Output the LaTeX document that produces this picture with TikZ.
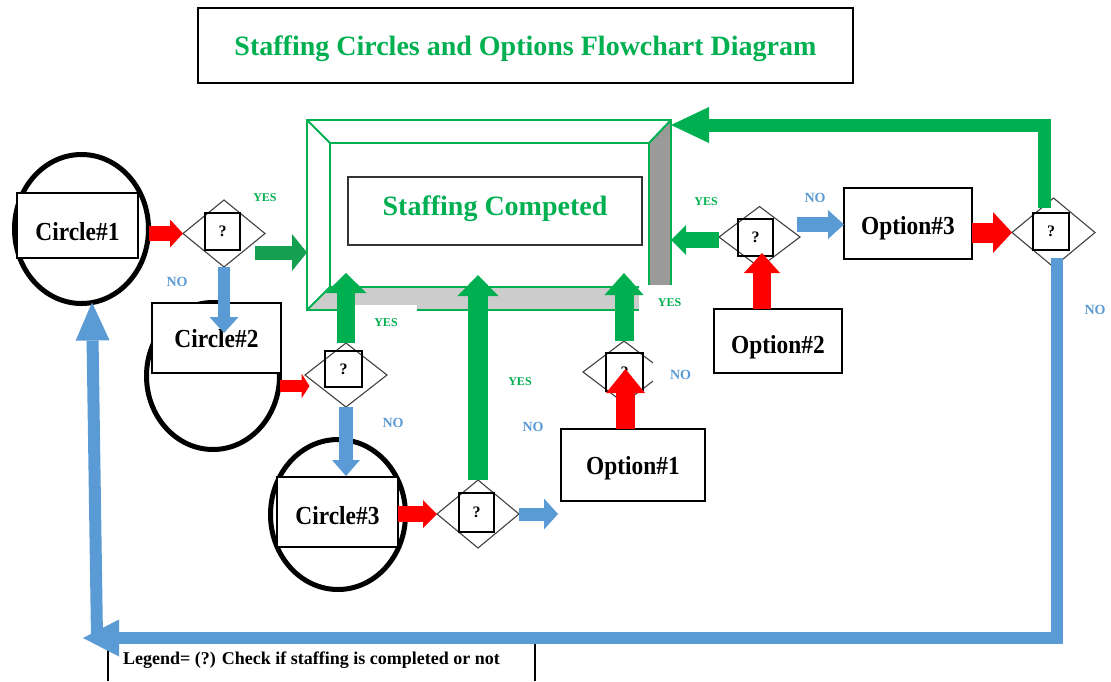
\documentclass[tikz,border=0pt]{standalone}
\usepackage{fontspec}
\setmainfont{Liberation Serif}
\newfontfamily\cond[FakeStretch=0.9]{Liberation Serif}
\usetikzlibrary{shapes.geometric,arrows.meta,calc}
\definecolor{gr}{HTML}{00B050}
\definecolor{dgr}{HTML}{14A050}
\definecolor{bl}{HTML}{5B9BD5}
\definecolor{rd}{HTML}{FF0000}
\definecolor{dgray}{HTML}{9A9A9A}
\definecolor{lgray}{HTML}{CCCCCC}
\newcommand\lowertext[2]{\raisebox{0pt}[\dimexpr\height+#1\relax][\depth]{#2}}
\tikzset{
 boxn/.style={draw=black, line width=1.3pt, fill=white, inner sep=0pt, outer sep=0pt, font=\cond\bfseries\fontsize{26}{30}\selectfont},
 circn/.style={ellipse, draw=black, line width=5pt, inner sep=0pt, outer sep=0pt},
 dian/.style={diamond, draw=black!75, line width=1.1pt, inner sep=0pt, outer sep=0pt},
 qboxn/.style={draw=black, line width=2pt, inner sep=0pt, outer sep=0pt, font=\bfseries\fontsize{16}{18}\selectfont},
 yeslab/.style={text=gr, font=\bfseries\fontsize{12}{14}\selectfont},
 nolab/.style={text=bl, font=\bfseries\fontsize{14}{16}\selectfont},
 blk/.style n args={3}{line width=#1pt, -{Triangle[length=#2pt,width=#3pt,line width=0pt]}},
}
\begin{document}
\begin{tikzpicture}[x=1pt,y=-1pt]
\useasboundingbox (0,0) rectangle (1111,681);

% title
\node[draw=black, line width=1.3pt, minimum width=655pt, minimum height=75pt, inner sep=0pt, text=gr, font=\bfseries\fontsize{28}{32}\selectfont] (title) at (525.5,45.5) {\lowertext{7pt}{Staffing Circles and Options Flowchart Diagram}};

% beveled frame
\fill[dgray] (649,143) -- (671,120) -- (671,310) -- (649,287) -- cycle;
\fill[lgray] (307,310) -- (330,287) -- (649,287) -- (671,310) -- cycle;
\node[draw=gr, line width=2pt, minimum width=364pt, minimum height=190pt, inner sep=0pt, outer sep=0pt] (fo) at (489,215) {};
\node[draw=gr, line width=2pt, minimum width=319pt, minimum height=144pt, inner sep=0pt, outer sep=0pt] (fi) at (489.5,215) {};
\draw[gr, line width=2pt] (fo.north west) -- (fi.north west) (fo.north east) -- (fi.north east) (fo.south west) -- (fi.south west) (fo.south east) -- (fi.south east);
\node[draw=black!80, line width=1.3pt, minimum width=294pt, minimum height=68pt, inner sep=0pt, text=gr, font=\bfseries\fontsize{28}{32}\selectfont] (sc) at (495,211) {\raisebox{0pt}[\height][\dimexpr\depth+5pt\relax]{Staffing Competed}};

% circles
\node[circn, minimum width=134pt, minimum height=149pt] (c1) at (81.5,229) {};
\node[boxn, minimum width=121pt, minimum height=65pt] (r1) at (77.5,225.5) {\lowertext{12pt}{Circle\#1}};
\node[circn, minimum width=133pt, minimum height=147pt] (c2) at (213,376) {};
\node[boxn, minimum width=129pt, minimum height=70pt] (r2) at (216.5,338) {\lowertext{2pt}{Circle\#2}};
\node[circn, minimum width=135pt, minimum height=150pt] (c3) at (338,514.5) {};
\node[boxn, minimum width=121pt, minimum height=70pt] (r3) at (337.5,512) {\lowertext{7pt}{Circle\#3}};

% options
\node[boxn, minimum width=144pt, minimum height=72pt] (o1) at (633,465) {\lowertext{7pt}{Option\#1}};
\node[boxn, minimum width=128pt, minimum height=64pt] (o2) at (778,341) {\lowertext{13pt}{Option\#2}};
\node[boxn, minimum width=128pt, minimum height=71pt] (o3) at (908,223.5) {\lowertext{9pt}{Option\#3}};

% decisions
\node[dian, minimum width=82pt, minimum height=67pt] (d1) at (224,233.5) {};
\node[qboxn, minimum width=35pt, minimum height=37pt] (q1) at (222.5,231) {?};
\node[dian, minimum width=82pt, minimum height=64pt] (d2) at (346,375) {};
\node[qboxn, minimum width=37pt, minimum height=36pt] (q2) at (343.5,369) {?};
\node[dian, minimum width=82pt, minimum height=68pt] (d3) at (478,514) {};
\node[qboxn, minimum width=35pt, minimum height=39pt] (q3) at (476.5,512.5) {?};
\node[dian, minimum width=82pt, minimum height=62pt] (d4) at (624,372) {};
\node[qboxn, minimum width=37pt, minimum height=38pt] (q4) at (624.5,372) {?};
\node[dian, minimum width=81pt, minimum height=61pt] (d5) at (759.5,237) {};
\node[qboxn, minimum width=35pt, minimum height=37pt] (q5) at (755.5,237.5) {?};
\node[dian, minimum width=83pt, minimum height=69pt] (d6) at (1053.5,232.5) {};
\node[qboxn, minimum width=36pt, minimum height=37pt] (q6) at (1051,231.5) {?};

% labels
\node[fill=white, minimum width=62pt, minimum height=35pt, inner sep=0pt, yeslab] (y2) at (386,322.5) {YES};
\node[fill=white, minimum width=61pt, minimum height=35pt, inner sep=0pt, yeslab] (y4) at (669.5,302.5) {YES};
\node[fill=white, minimum height=37pt, text width=38pt, align=right, inner sep=0pt, nolab] (n4) at (672,374.5) {NO};
\node[yeslab] (y1) at (265,198) {YES};
\node[nolab] (n1) at (177,282) {NO};
\node[nolab] (n2) at (393,423) {NO};
\node[yeslab] (y3) at (520,382) {YES};
\node[nolab] (n3) at (533,427) {NO};
\node[yeslab] (y5) at (706,202) {YES};
\node[nolab] (n5) at (815,198) {NO};
\node[nolab] (n6) at (1095,310) {NO};

% legend
\draw[line width=1.5pt] (108,681) -- (108,643) -- (535,643) -- (535,681);
\node[anchor=west, inner sep=0pt, font=\bfseries\fontsize{18}{20}\selectfont] (leg) at (123,660) {Legend= (?) Check if staffing is completed or not};

% arrows
\draw[rd, blk={15}{13}{28}] (c1.east |- d1.west) -- (d1.west);
\coordinate (a2s) at ($(d1.east)+(-10,19)$);
\draw[dgr, blk={14}{15}{37}] (a2s) -- (a2s -| fo.west);
\draw[bl, blk={12}{16}{29}] (d1.south) -- ++(0,66);
\coordinate (a4s) at ($(c2.east)+(0,10)$);
\draw[rd, blk={12}{8}{25}] (a4s) -- ++(30,0);
\draw[gr, blk={18}{20}{41}] (d2.north) -- ++(0,-70);
\draw[bl, blk={14}{16}{28}] (d2.south) -- ++(0,69);
\draw[rd, blk={16}{14}{28}] (r3.east |- d3.west) -- (d3.west);
\draw[gr, blk={20}{21}{41}] (d3.north) -- ++(0,-205);
\draw[bl, blk={13}{14}{31}] (d3.east) -- ++(39,0);
\coordinate (a10s) at ($(o1.north)+(-7.5,0)$);
\draw[rd, blk={19}{24}{39}] (a10s) -- ++(0,-60);
\draw[gr, blk={19}{22}{39}] (d4.north) -- ++(0,-68);
\coordinate (a12s) at ($(o2.north)+(-16,0)$);
\draw[rd, blk={18}{20}{36}] (a12s) -- ++(0,-56);
\coordinate (a13s) at ($(d5.west)+(0,3)$);
\draw[gr, blk={16}{15}{30}] (a13s) -- (a13s -| fo.east);
\coordinate (a14s) at ($(d5.east)+(-3,-12.5)$);
\draw[bl, blk={15}{16}{29}] (a14s) -- (a14s -| o3.west);
\draw[rd, blk={20}{19}{41}] (o3.east |- d6.west) -- (d6.west);
\coordinate (a16s) at ($(d6.north)+(-9.5,10)$);
\coordinate (a16c) at (1044,125);
\draw[gr, blk={13}{38}{36}] (a16s) -- (a16c) -- (a16c -| fo.east);
\coordinate (a17s) at ($(d6.south)+(3.5,-9)$);
\coordinate (a17c) at (1057,638);
\coordinate (a17e) at (83,638);
\draw[bl, blk={12}{36}{37}] (a17s) -- (a17c) -- (a17e);
\coordinate (a18s) at (97,638);
\draw[bl, blk={12}{38}{34}] (a18s) -- ($(c1.south)+(10.5,-1)$);
\end{tikzpicture}
\end{document}
